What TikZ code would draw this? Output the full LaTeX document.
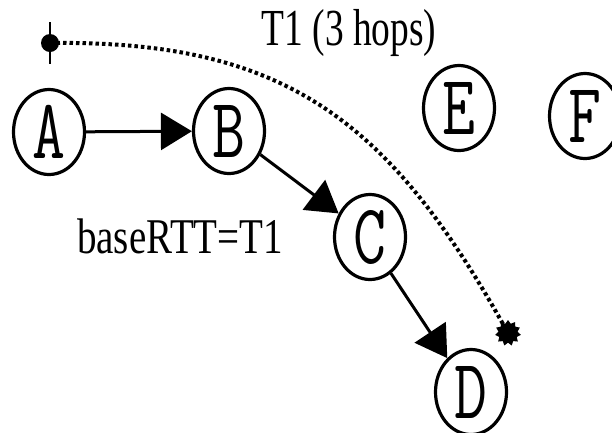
\documentclass[tikz,border=0pt]{standalone}
\usepackage{fontspec}
\setmainfont{Liberation Serif}
\usetikzlibrary{shapes.geometric,arrows.meta}
\begin{document}
\begin{tikzpicture}[x=1pt,y=-1pt,
  hostnode/.style={ellipse,draw,line width=3.2pt,minimum width=71pt,minimum height=85pt,
    inner sep=0pt,font=\ttfamily\fontsize{64}{64}\selectfont},
  hop/.style={line width=3pt,-{Triangle[length=31pt,width=37pt]}},
  probe/.style={line width=4pt,dash pattern=on 3.5pt off 3pt},
  caption/.style={inner sep=0pt}]
\useasboundingbox (0,0) rectangle (612,432);

% hosts
\node[hostnode] (A) at (49,132) {\scalebox{1}[1.33]{A}};
\node[hostnode] (B) at (229,131) {\scalebox{1}[1.33]{B}};
\node[hostnode] (C) at (370,237) {\scalebox{1}[1.33]{C}};
\node[hostnode] (D) at (471,392) {\scalebox{1}[1.33]{D}};
\node[hostnode] (E) at (459,108) {\scalebox{1}[1.33]{E}};
\node[hostnode] (F) at (585,116) {\scalebox{1}[1.33]{F}};

% forwarding path
\draw[hop] (A) -- (B);
\draw[hop] (B) -- (C);
\draw[hop] (C.-60) -- (D.125);

% round trip measurement
\coordinate (s) at (50,43);
\coordinate (t) at (508,333);
\draw[probe] (s) .. controls (285,40) and (390,120) .. (t);
\fill (s) circle (9pt);
\draw[line width=2.2pt] (s) ++(0,-21) -- ++(0,42);
\node[star,star points=11,star point ratio=1.35,fill,draw=none,minimum size=26pt,inner sep=0pt] (tm) at (t) {};

% labels
\node[caption] (hops) at (349,33) {\fontsize{52}{52}\selectfont\scalebox{0.72}[1]{T1 (3 hops)}};
\node[caption] (rtt) at (180,236) {\fontsize{50}{50}\selectfont\scalebox{0.78}[1]{baseRTT=T1}};
\end{tikzpicture}
\end{document}
